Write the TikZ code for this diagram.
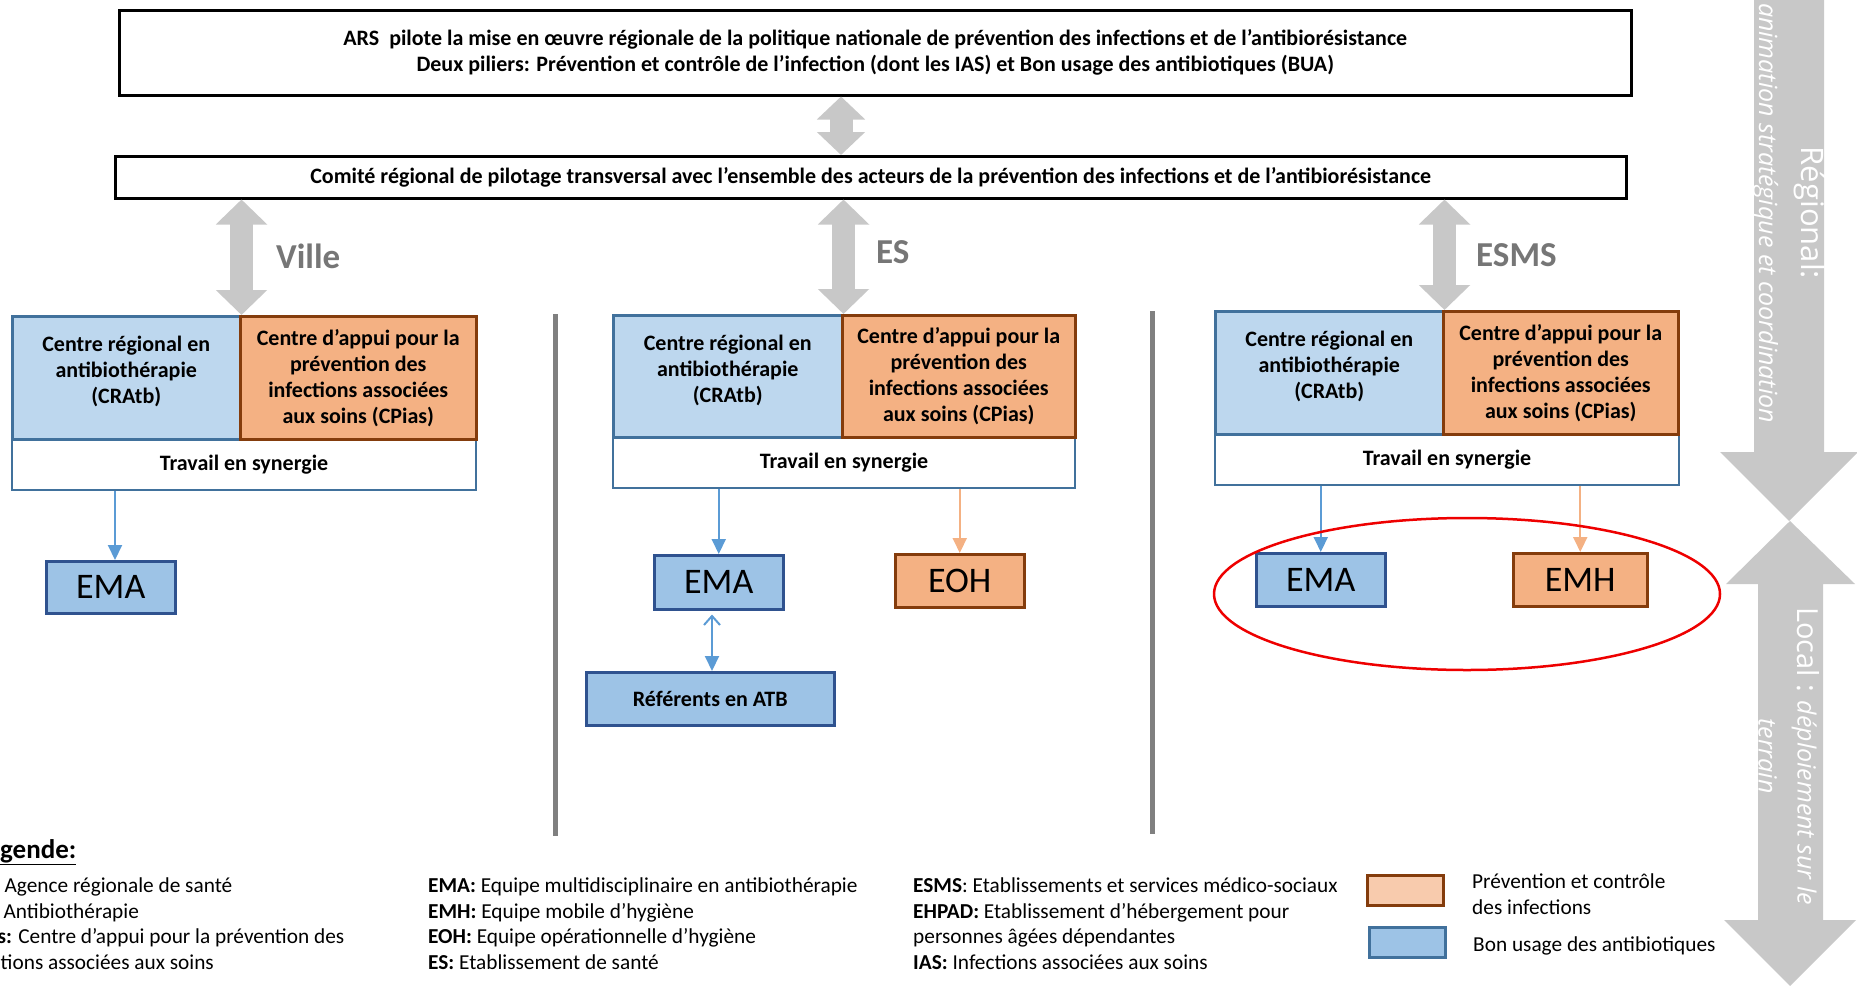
\documentclass[tikz,border=0pt]{standalone}
\usepackage{fontspec}
\setmainfont{Carlito}
\newfontfamily\sidefont{Open Sans}
\usetikzlibrary{arrows.meta,calc}
\definecolor{lightblue}{HTML}{BDD7EE}
\definecolor{midblue}{HTML}{9DC3E6}
\definecolor{bordblue}{HTML}{41719C}
\definecolor{navyb}{HTML}{2F528F}
\definecolor{orangef}{HTML}{F4B183}
\definecolor{orangelt}{HTML}{F8CBAD}
\definecolor{bordbrown}{HTML}{843C0C}
\definecolor{arrowgray}{HTML}{C8C8C8}
\definecolor{sepgray}{HTML}{808080}
\definecolor{lblgray}{HTML}{767676}
\definecolor{arrblue}{HTML}{5B9BD5}
\definecolor{arrorange}{HTML}{F4B183}
\definecolor{ellred}{HTML}{EE0000}
\newcommand\myfs[2]{\fontsize{#1pt}{#2pt}\selectfont}
\begin{document}
\begin{tikzpicture}[x=1pt,y=-1pt,
  bigbox/.style={draw=black, line width=2.5pt, fill=white, font=\myfs{22}{26}\bfseries, align=center, inner sep=0pt, anchor=north west},
  cratb/.style={draw=bordblue, fill=lightblue, line width=2.5pt, inner sep=0pt, anchor=north west},
  cratbtxt/.style={font=\myfs{22}{26}\bfseries, align=center, yshift=6pt},
  cpias/.style={draw=bordbrown, fill=orangef, line width=2.5pt, font=\myfs{22}{26}\bfseries, align=center, inner sep=0pt, anchor=north west},
  synbox/.style={draw=bordblue, fill=white, line width=2pt, font=\myfs{22}{26}\bfseries, inner sep=0pt, anchor=north west},
  emabox/.style={draw=navyb, fill=midblue, line width=2.5pt, font=\myfs{36}{40}, inner sep=0pt, anchor=north west},
  hygbox/.style={draw=bordbrown, fill=orangef, line width=2.5pt, font=\myfs{36}{40}, inner sep=0pt, anchor=north west},
  refbox/.style={emabox, font=\myfs{22}{26}\bfseries},
  gdarrow/.style={draw=arrowgray, line width=23pt, {Triangle[width=50pt,length=25pt]}-{Triangle[width=50pt,length=25pt]}},
  gdarrowtop/.style={draw=arrowgray, line width=23pt, {Triangle[width=47pt,length=23pt]}-{Triangle[width=47pt,length=23pt]}},
  bluearr/.style={draw=arrblue, line width=2pt, -{Triangle[width=14pt,length=15pt]}},
  orarr/.style={draw=arrorange, line width=2pt, -{Triangle[width=14pt,length=15pt]}},
  seplin/.style={draw=sepgray, line width=5pt},
  lbl/.style={text=lblgray, font=\myfs{35}{40}\bfseries, anchor=west, inner sep=0pt},
  legtxt/.style={font=\myfs{21.3}{26}, anchor=base west, inner sep=0pt},
  swatch/.style={line width=2.5pt, minimum width=76pt, minimum height=30pt, inner sep=0pt, anchor=north west},
  sidetxt/.style={text=white, rotate=-90, align=center, inner sep=0pt, font=\sidefont\myfs{25}{42}}
]
\useasboundingbox (0,0) rectangle (1857,985);
\clip (0,0) rectangle (1857,985);

% right side arrows
\fill[arrowgray] (1754,-2) -- (1824,-2) -- (1824,452) -- (1858,452) -- (1789,521) -- (1720,452) -- (1754,452) -- cycle;
\fill[arrowgray] (1790,521) -- (1855,584) -- (1823,584) -- (1823,920) -- (1856,920) -- (1790,986) -- (1724,920) -- (1758,920) -- (1758,584) -- (1726,584) -- cycle;
\node[sidetxt] (regtxt) at (1789,213) {{\myfs{31}{42}Régional:}\\{\itshape animation stratégique et coordination}};
\node[sidetxt, font=\sidefont\myfs{25}{39}] (loctxt) at (1789,756) {{\myfs{29}{39}Local :} {\itshape déploiement sur le}\\{\itshape terrain}};

% top boxes
\node[bigbox, minimum width=1512pt, minimum height=85pt] (top) at (118,9)
  {ARS\ \ pilote la mise en œuvre régionale de la politique nationale de prévention des infections et de l’antibiorésistance\\
   Deux piliers: Prévention et contrôle de l’infection (dont les IAS) et Bon usage des antibiotiques (BUA)};
\node[bigbox, minimum width=1511pt, minimum height=42pt] (comite) at (114,155)
  {Comité régional de pilotage transversal avec l’ensemble des acteurs de la prévention des infections et de l’antibiorésistance};
\coordinate (ax) at (841,0);
\draw[gdarrowtop] (top.south -| ax) -- (comite.north -| ax);

% separators
\draw[seplin] (555,314) -- (555,836);
\draw[seplin] (1152,311) -- (1152,834);

% Ville
\node[synbox, minimum width=464pt, minimum height=51pt] (sV) at (11,438) {Travail en synergie};
\node[cratb, minimum width=228pt, minimum height=123pt, label={[cratbtxt]center:Centre régional en\\antibiothérapie\\(CRAtb)}] (cV) at (11,315) {};
\node[cpias, minimum width=236pt, minimum height=123pt] (pV) at (239,315) {Centre d’appui pour la\\prévention des\\infections associées\\aux soins (CPias)};
\node[emabox, minimum width=129pt, minimum height=52pt] (eV) at (45,560) {EMA};
\draw[gdarrow] (comite.south -| cV.north east) -- (cV.north east);
\node[lbl] (lV) at (276,256) {Ville};
\draw[bluearr] (sV.south -| 115,0) -- (eV.north -| 115,0);

% ES
\node[synbox, minimum width=462pt, minimum height=51pt] (sE) at (612,436) {Travail en synergie};
\node[cratb, minimum width=229pt, minimum height=122pt, label={[cratbtxt]center:Centre régional en\\antibiothérapie\\(CRAtb)}] (cE) at (612,314) {};
\node[cpias, minimum width=233pt, minimum height=122pt] (pE) at (841,314) {Centre d’appui pour la\\prévention des\\infections associées\\aux soins (CPias)};
\node[emabox, minimum width=129pt, minimum height=54pt] (eE) at (653,554) {EMA};
\node[hygbox, minimum width=129pt, minimum height=53pt] (hE) at (894,553) {EOH};
\node[refbox, minimum width=248pt, minimum height=53pt] (rE) at (585,671) {Référents en ATB};
\draw[gdarrow] (comite.south -| cE.north east) -- (cE.north east);
\node[lbl] (lE) at (876,252) {ES};
\draw[bluearr] (sE.south -| eE.north) -- (eE.north);
\draw[orarr] (sE.south -| hE.north) -- (hE.north);
\draw[draw=arrblue, line width=2pt, {Straight Barb[width=16pt,length=9pt,line width=2pt]}-{Triangle[width=14pt,length=15pt]}] ([yshift=-4pt]eE.south -| 712,0) -- (rE.north -| 712,0);

% ESMS
\node[synbox, minimum width=464pt, minimum height=51pt] (sM) at (1214,433) {Travail en synergie};
\node[cratb, minimum width=228pt, minimum height=123pt, label={[cratbtxt]center:Centre régional en\\antibiothérapie\\(CRAtb)}] (cM) at (1214,310) {};
\node[cpias, minimum width=235pt, minimum height=123pt] (pM) at (1442,310) {Centre d’appui pour la\\prévention des\\infections associées\\aux soins (CPias)};
\node[emabox, minimum width=129pt, minimum height=53pt] (eM) at (1255,552) {EMA};
\node[hygbox, minimum width=134pt, minimum height=53pt] (hM) at (1512,552) {EMH};
\draw[gdarrow] (comite.south -| cM.north east) -- (cM.north east);
\node[lbl] (lM) at (1476,255) {ESMS};
\draw[bluearr] (sM.south -| eM.north) -- (eM.north);
\draw[orarr] (sM.south -| hM.north) -- (hM.north);
\draw[draw=ellred, line width=2.5pt] (1467,594) ellipse [x radius=253pt, y radius=76pt];

% legend
\node[font=\myfs{27}{30}\bfseries, anchor=base west, inner sep=0pt] (leg) at (-25,858) {\underline{Légende:}};
\node[legtxt] (a1) at (-41,892) {\textbf{ARS:} Agence régionale de santé};
\node[legtxt] (a2) at (-41,918) {\textbf{ATB:} Antibiothérapie};
\node[legtxt] (a3) at (-41,943) {\textbf{CPias:} Centre d’appui pour la prévention des};
\node[legtxt] (a4) at (-41,969) {infections associées aux soins};
\node[legtxt] (b1) at (428,892) {\textbf{EMA:} Equipe multidisciplinaire en antibiothérapie};
\node[legtxt] (b2) at (428,918) {\textbf{EMH:} Equipe mobile d’hygiène};
\node[legtxt] (b3) at (428,943) {\textbf{EOH:} Equipe opérationnelle d’hygiène};
\node[legtxt] (b4) at (428,969) {\textbf{ES:} Etablissement de santé};
\node[legtxt] (c1) at (913,892) {\textbf{ESMS}: Etablissements et services médico-sociaux};
\node[legtxt] (c2) at (913,918) {\textbf{EHPAD:} Etablissement d’hébergement pour};
\node[legtxt] (c3) at (913,943) {personnes âgées dépendantes};
\node[legtxt] (c4) at (913,969) {\textbf{IAS:} Infections associées aux soins};
\node[swatch, draw=bordbrown, fill=orangelt] (swO) at (1366,874) {};
\node[swatch, draw=bordblue, fill=midblue] (swB) at (1368,926) {};
\node[legtxt] (d1) at (1472,888) {Prévention et contrôle};
\node[legtxt] (d2) at (1472,914) {des infections};
\node[legtxt] (d3) at (1473,951) {Bon usage des antibiotiques};
\end{tikzpicture}
\end{document}
